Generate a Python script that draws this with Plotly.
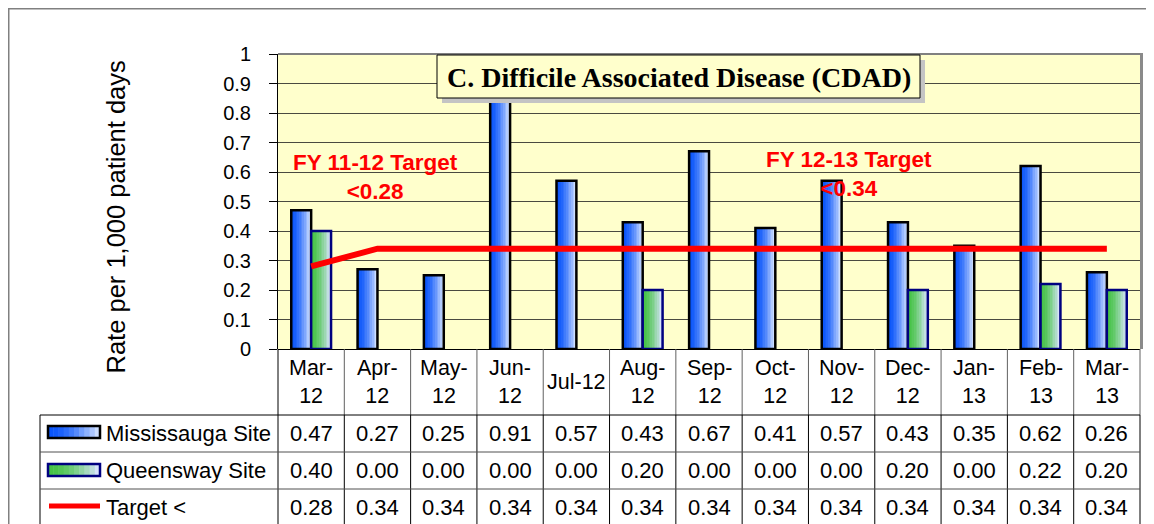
import plotly.graph_objects as go

# ---------------- data ----------------
categories = ["Mar-12", "Apr-12", "May-12", "Jun-12", "Jul-12", "Aug-12", "Sep-12",
              "Oct-12", "Nov-12", "Dec-12", "Jan-13", "Feb-13", "Mar-13"]
header_labels = ["Mar-<br>12", "Apr-<br>12", "May-<br>12", "Jun-<br>12", "Jul-12",
                 "Aug-<br>12", "Sep-<br>12", "Oct-<br>12", "Nov-<br>12", "Dec-<br>12",
                 "Jan-<br>13", "Feb-<br>13", "Mar-<br>13"]
mississauga = [0.47, 0.27, 0.25, 0.91, 0.57, 0.43, 0.67, 0.41, 0.57, 0.43, 0.35, 0.62, 0.26]
queensway = [0.40, 0.00, 0.00, 0.00, 0.00, 0.20, 0.00, 0.00, 0.00, 0.20, 0.00, 0.22, 0.20]
target = [0.28, 0.34, 0.34, 0.34, 0.34, 0.34, 0.34, 0.34, 0.34, 0.34, 0.34, 0.34, 0.34]
series_names = ["Mississauga Site", "Queensway Site", "Target <"]
y_ticks = [0, 0.1, 0.2, 0.3, 0.4, 0.5, 0.6, 0.7, 0.8, 0.9, 1]

# ---------------- geometry (screen pixels; page body has an 8px margin) ----------------
OFF = 8
W, H = 1154 - OFF, 524 - OFF
L, R, T, B = 278, 1140, 54, 349
FONT = "Liberation Sans, Arial, sans-serif"


def px(x):
    return (x - L) / (R - L)


def py(y):
    return (B - y) / (B - T)


def mix(c1, c2, t):
    return "rgb(%d,%d,%d)" % tuple(round(a + (b - a) * t) for a, b in zip(c1, c2))


blue_l, blue_r = (10, 85, 250), (205, 222, 255)
green_l, green_r = (70, 195, 70), (215, 228, 250)

fig = go.Figure()

# gradient bars built from slices
N = 12
BW = 0.3
for name, vals, off, c1, c2, lc in [
    (series_names[0], mississauga, -BW, blue_l, blue_r, "black"),
    (series_names[1], queensway, 0.0, green_l, green_r, "#000080"),
]:
    draw = [v if v > 0 else None for v in vals]
    for k in range(N):
        t = (k / (N - 1)) ** 1.6
        fig.add_trace(go.Bar(x=categories, y=draw, offset=off + k * BW / N, width=BW / N + 0.004,
                             marker=dict(color=mix(c1, c2, t), line=dict(width=0)),
                             showlegend=False, hoverinfo="skip"))
    fig.add_trace(go.Bar(x=categories, y=draw, offset=off, width=BW, name=name,
                         marker=dict(color="rgba(0,0,0,0)", line=dict(color=lc, width=2.5)),
                         showlegend=False))

fig.add_trace(go.Scatter(x=categories, y=target, mode="lines", name=series_names[2],
                         line=dict(color="#FF0000", width=6), showlegend=False))

shapes = []
ann = []

# outer frame
shapes.append(dict(type="rect", xref="paper", yref="paper", x0=px(8.5), x1=px(1153), y0=py(540), y1=py(8.5),
                   line=dict(color="#808080", width=2), layer="below"))
# plot border (gray top/right) + right shadow
shapes.append(dict(type="line", xref="paper", yref="paper", x0=0, x1=1, y0=1, y1=1,
                   line=dict(color="#808080", width=2)))
shapes.append(dict(type="line", xref="paper", yref="paper", x0=px(1141.5), x1=px(1141.5), y0=py(349), y1=py(53),
                   line=dict(color="#8a8a8a", width=3)))

# table lines
for k in range(14):
    xk = k / 13
    shapes.append(dict(type="line", xref="paper", yref="paper", x0=xk, x1=xk, y0=py(349), y1=py(415),
                       line=dict(color="#606060" if k > 0 else "black", width=1)))
    shapes.append(dict(type="line", xref="paper", yref="paper", x0=xk, x1=xk, y0=py(415), y1=py(540),
                       line=dict(color="black", width=1)))
shapes.append(dict(type="line", xref="paper", yref="paper", x0=px(40), x1=px(40), y0=py(415), y1=py(540),
                   line=dict(color="black", width=1)))
shapes.append(dict(type="line", xref="paper", yref="paper", x0=px(40), x1=1, y0=py(415), y1=py(415),
                   line=dict(color="black", width=1)))
for yy in (452, 489):
    shapes.append(dict(type="line", xref="paper", yref="paper", x0=px(40), x1=1, y0=py(yy), y1=py(yy),
                       line=dict(color="#505050", width=1)))

# legend swatches in table
M = 10
for (y0, y1, c1, c2, lc) in [(426, 438, blue_l, blue_r, "black"), (464, 476, green_l, green_r, "#000080")]:
    for k in range(M):
        t = (k / (M - 1)) ** 1.6
        xa = 48 + k * 52 / M
        shapes.append(dict(type="rect", xref="paper", yref="paper", x0=px(xa), x1=px(xa + 52 / M + 0.5),
                           y0=py(y1), y1=py(y0), fillcolor=mix(c1, c2, t), line=dict(width=0)))
    shapes.append(dict(type="rect", xref="paper", yref="paper", x0=px(48), x1=px(100), y0=py(y1), y1=py(y0),
                       line=dict(color=lc, width=2.5)))
shapes.append(dict(type="line", xref="paper", yref="paper", x0=px(49), x1=px(100), y0=py(506), y1=py(506),
                   line=dict(color="#FF0000", width=5)))

# title box with shadow
shapes.append(dict(type="rect", xref="paper", yref="paper", x0=px(442), x1=px(925), y0=py(103), y1=py(60),
                   fillcolor="#C4C4C4", line=dict(width=0), layer="above"))
shapes.append(dict(type="rect", xref="paper", yref="paper", x0=px(437), x1=px(920), y0=py(98), y1=py(55),
                   fillcolor="#FFFFCC", line=dict(color="black", width=1), layer="above"))

ann.append(dict(xref="paper", yref="paper", x=px(679), y=py(77), xanchor="center", yanchor="middle",
                text="<b>C. Difficile Associated Disease (CDAD)</b>", showarrow=False,
                font=dict(family="Liberation Serif, Times New Roman, serif", size=28, color="black")))

# target notes
ann.append(dict(xref="paper", yref="paper", x=px(375.5), y=py(176.5), xanchor="center", yanchor="middle",
                text="<b>FY 11-12 Target<br>&lt;0.28</b>", showarrow=False, align="center",
                font=dict(family=FONT, size=22.5, color="#FF0000")))
ann.append(dict(xref="paper", yref="paper", x=px(849), y=py(174), xanchor="center", yanchor="middle",
                text="<b>FY 12-13 Target<br>&lt;0.34</b>", showarrow=False, align="center",
                font=dict(family=FONT, size=22.5, color="#FF0000")))

# y title
ann.append(dict(xref="paper", yref="paper", x=px(115), y=py(217.5), xanchor="center", yanchor="middle",
                text="Rate per 1,000 patient days", textangle=-90, showarrow=False,
                font=dict(family=FONT, size=25.5, color="black")))

# header labels
for c, lab in zip(categories, header_labels):
    ann.append(dict(xref="x", yref="paper", x=c, y=py(382), xanchor="center", yanchor="middle",
                    text=lab, showarrow=False, font=dict(family=FONT, size=21.5, color="black")))

# table rows
rows = [(series_names[0], mississauga, 433.5), (series_names[1], queensway, 470.5), (series_names[2], target, 507)]
for name, vals, yc in rows:
    ann.append(dict(xref="paper", yref="paper", x=px(104), y=py(yc), xanchor="left", yanchor="middle",
                    text=name.replace("<", "&lt;"), showarrow=False, font=dict(family=FONT, size=22, color="black")))
    for c, v in zip(categories, vals):
        ann.append(dict(xref="x", yref="paper", x=c, y=py(yc), xanchor="center", yanchor="middle",
                        text="%.2f" % v, showarrow=False, font=dict(family=FONT, size=22, color="black")))

fig.update_layout(
    width=W, height=H,
    margin=dict(l=L - OFF, r=W - (R - OFF), t=T - OFF, b=H - (B - OFF), autoexpand=False),
    paper_bgcolor="white", plot_bgcolor="#FFFFCC",
    barmode="overlay", showlegend=False, hovermode=False,
    shapes=shapes, annotations=ann,
    xaxis=dict(type="category", range=[-0.5, 12.5], showticklabels=False, showgrid=False,
               zeroline=False, showline=False, ticks=""),
    yaxis=dict(range=[0, 1], tickvals=y_ticks, ticktext=[("%g" % v) for v in y_ticks],
               ticks="outside", ticklen=8, tickcolor="black", tickwidth=1,
               showline=True, linecolor="black", linewidth=1,
               showgrid=True, gridcolor="#4a4a40", gridwidth=1,
               zeroline=True, zerolinecolor="black", zerolinewidth=1,
               tickfont=dict(family=FONT, size=20, color="black"), ticklabelstandoff=14),
)

fig.write_html("out.html")
